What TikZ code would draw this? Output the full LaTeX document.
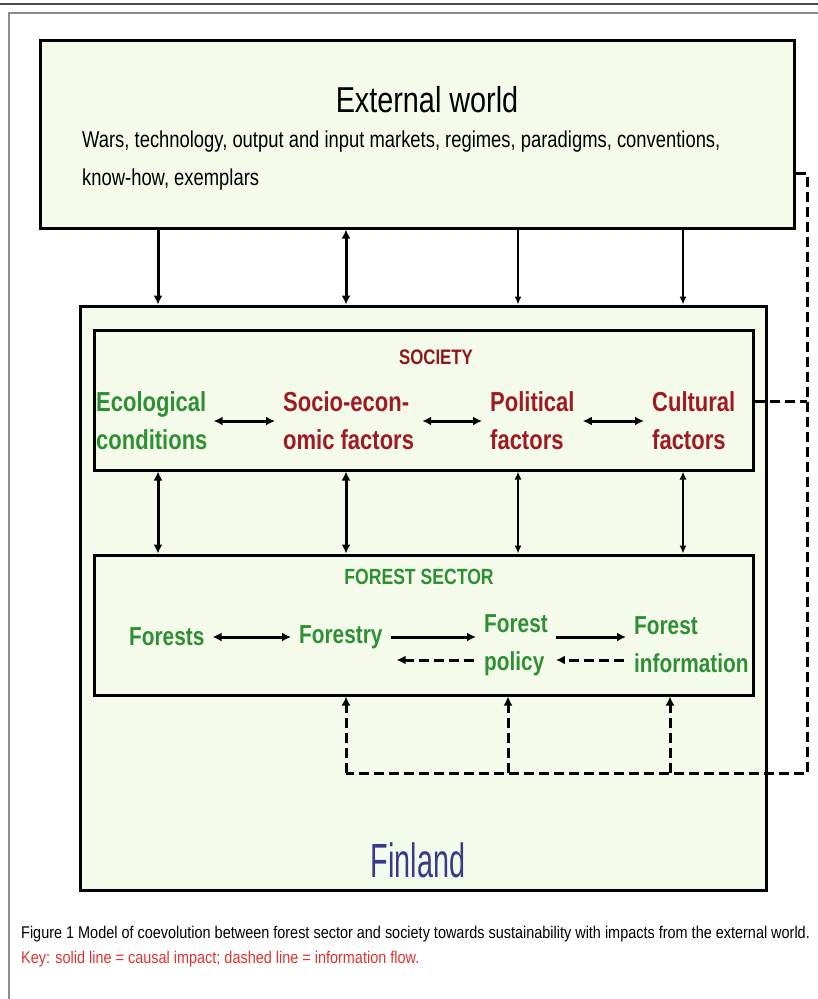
\documentclass[tikz,border=0pt]{standalone}
\usepackage{fontspec}
\setmainfont[FakeStretch=0.8]{Liberation Sans}
\newfontfamily\narrowfont[FakeStretch=0.6]{Liberation Sans}
\newfontfamily\capfont[FakeStretch=0.85]{Liberation Sans}
\usepackage{xcolor}
\usepackage{tikz}
\usetikzlibrary{arrows.meta, positioning, calc}

\definecolor{paleyellow}{HTML}{F5FBEA}
\definecolor{socred}{HTML}{9E1B22}
\definecolor{socdark}{HTML}{8A1A1E}
\definecolor{sectorgreen}{HTML}{2F8F35}
\definecolor{finblue}{HTML}{3A3A8A}
\definecolor{keyred}{HTML}{E0322D}
\definecolor{framegray}{HTML}{8C8C8C}

\begin{document}
\begin{tikzpicture}[x=1pt, y=-1pt,
    box/.style={draw=black, line width=3pt, fill=paleyellow, inner sep=0pt},
    item/.style={inner sep=0pt, align=left, font=\bfseries\fontsize{27.5}{38}\selectfont},
    fitem/.style={inner sep=0pt, align=left, font=\bfseries\fontsize{26}{38}\selectfont, text=sectorgreen},
    causal/.style={line width=3pt, -{Latex[length=9pt,width=9pt]}},
    causalthin/.style={line width=1.8pt, -{Latex[length=8pt,width=7pt]}},
    twoway/.style={line width=3pt, {Latex[length=9pt,width=9pt]}-{Latex[length=9pt,width=9pt]}},
    twowaythin/.style={line width=1.8pt, {Latex[length=8pt,width=7pt]}-{Latex[length=8pt,width=7pt]}},
    info/.style={line width=3pt, dash pattern=on 10pt off 5pt},
    infoarrow/.style={info, -{Latex[length=9pt,width=9pt]}}]
  \useasboundingbox (0,0) rectangle (818,999);

  % ---- screenshot frame ----
  \draw[black!70, line width=1.5pt] (0,4) -- (818,4);
  \draw[framegray, line width=2pt] (9,999) -- (9,13) -- (818,13);

  % ---- boxes ----
  \node[box, minimum width=754pt, minimum height=188pt] (world) at (417,134) {};
  \node[box, minimum width=686pt, minimum height=584pt] (fin) at (423,598) {};
  \node[box, minimum width=659pt, minimum height=140pt] (soc) at (424,400) {};
  \node[box, minimum width=659pt, minimum height=140pt] (sector) at (424,625) {};

  % ---- External world ----
  \node[font=\fontsize{36}{40}\selectfont] (wtitle) at (427,100) {External world};
  \node[anchor=west, align=left, inner sep=0pt, font=\fontsize{23}{38}\selectfont]
        (wlist) at (82,161) {Wars, technology, output and input markets, regimes, paradigms, conventions,\\know-how, exemplars};

  % ---- Society ----
  \node[font=\bfseries\fontsize{21}{24}\selectfont, text=socdark] (soctitle) at (436,357) {SOCIETY};
  \node[item, anchor=west, text=sectorgreen] (eco) at (96,421) {Ecological\\conditions};
  \node[item, anchor=west, text=socred] (socio) at (283,421) {Socio-econ-\\omic factors};
  \node[item, anchor=west, text=socred] (pol) at (490,421) {Political\\factors};
  \node[item, anchor=west, text=socred] (cult) at (652,421) {Cultural\\factors};
  \draw[twoway, shorten <=6pt, shorten >=8pt] (eco) -- (socio);
  \draw[twoway, shorten <=8pt, shorten >=8pt] (socio) -- (pol);
  \draw[twoway, shorten <=8pt, shorten >=8pt] (pol) -- (cult);

  % ---- Forest sector ----
  \node[font=\bfseries\fontsize{22}{24}\selectfont, text=sectorgreen] (sectitle) at (419,577) {FOREST SECTOR};
  \node[fitem, anchor=west] (forests) at (129,637) {Forests};
  \node[fitem, anchor=west] (forestry) at (299,637) {Forestry};
  \node[fitem, anchor=west] (policy) at (484,645) {Forest\\policy};
  \node[fitem, anchor=west] (finfo) at (634,645) {Forest\\information};
  \draw[twoway, shorten <=8pt, shorten >=8pt] (forests) -- (forestry);
  \draw[causal, shorten <=8pt, shorten >=8pt] ([yshift=0pt]forestry.east) -- ([yshift=8pt]policy.west);
  \draw[infoarrow, shorten <=10pt, shorten >=14pt] ([yshift=-15pt]policy.west) -- ([yshift=-23pt]forestry.east);
  \draw[causal, shorten <=8pt, shorten >=8pt] ([yshift=8pt]policy.east) -- ([yshift=8pt]finfo.west);
  \draw[infoarrow, shorten <=10pt, shorten >=8pt] ([yshift=-15pt]finfo.west) -- ([yshift=-15pt]policy.east);

  % ---- Finland ----
  \node[font=\narrowfont\fontsize{48}{50}\selectfont, text=finblue] (finland) at (418,860) {Finland};

  % ---- impacts of the external world ----
  \foreach \x/\sty in {158/causal, 346/twoway, 518/causalthin, 683/causalthin}
    \draw[\sty] (world.south -| \x,0) -- (fin.north -| \x,0);
  \foreach \x/\sty in {158/twoway, 346/twoway, 518/twowaythin, 683/twowaythin}
    \draw[\sty] (soc.south -| \x,0) -- (sector.north -| \x,0);

  % ---- information flow ----
  \coordinate (rtop) at (807,173);
  \coordinate (rbot) at (807,773);
  \coordinate (lbot) at (346,773);
  \draw[info] (world.east |- rtop) -- (rtop) -- (rbot) -- (lbot);
  \draw[info] (soc.east |- 0,401) -- (rtop |- 0,401);
  \foreach \x in {346, 508, 670}
    \draw[infoarrow] (\x,773) -- (sector.south -| \x,0);

  % ---- caption ----
  \node[anchor=west, inner sep=0pt, font=\capfont\fontsize{17}{20}\selectfont] (cap1) at (21,934)
        {Figure 1 Model of coevolution between forest sector and society towards sustainability with impacts from the external world.};
  \node[anchor=west, inner sep=0pt, font=\capfont\fontsize{17}{20}\selectfont, text=keyred] (cap2) at (21,959)
        {Key: solid line = causal impact; dashed line = information flow.};
\end{tikzpicture}
\end{document}
